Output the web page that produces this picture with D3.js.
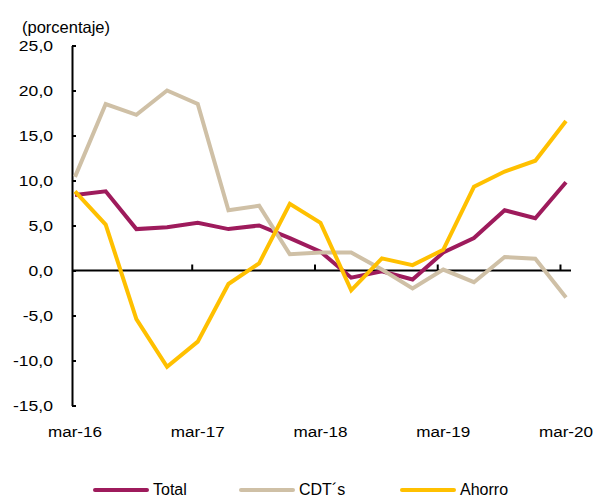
<!DOCTYPE html>
<html>
<head>
<meta charset="utf-8">
<script src="https://cdn.jsdelivr.net/npm/d3@7"></script>
<style>
	body { margin: 0; background: #fff; }
	text { font-family: "Liberation Sans", Arial, sans-serif; fill: #000; }
</style>
</head>
<body>
<script>
// quarterly periods, mar-16 .. mar-20
var periods = ['mar-16', 'jun-16', 'sep-16', 'dic-16', 'mar-17', 'jun-17', 'sep-17', 'dic-17',
	'mar-18', 'jun-18', 'sep-18', 'dic-18', 'mar-19', 'jun-19', 'sep-19', 'dic-19', 'mar-20'];
var xLabels = ['mar-16', 'mar-17', 'mar-18', 'mar-19', 'mar-20'];
var yTicks = [-15, -10, -5, 0, 5, 10, 15, 20, 25];

var total = [8.4, 8.8, 4.6, 4.8, 5.3, 4.6, 5.0, 3.6, 2.1, -0.8, -0.1, -1.0, 2.0, 3.6, 6.7, 5.8, 9.8];
var cdts = [10.4, 18.5, 17.3, 20.0, 18.5, 6.7, 7.2, 1.8, 2.0, 2.0, 0.1, -2.0, 0.1, -1.3, 1.5, 1.3, -3.0];
var ahorro = [8.8, 5.1, -5.4, -10.7, -7.9, -1.5, 0.8, 7.4, 5.3, -2.2, 1.35, 0.6, 2.3, 9.3, 11.0, 12.2, 16.6];

var seriesNames = ['Total', 'CDT\u00b4s', 'Ahorro'];
var seriesColors = ['#9E1B5C', '#CFC0A6', '#FFC000'];
var seriesData = [total, cdts, ahorro];

var width = 597, height = 499;
var stretch = 1.17; // tick labels in the original are a bit wide

var svg = d3.select('body').append('svg')
	.attr('width', width)
	.attr('height', height);

var x = d3.scalePoint().domain(periods).range([75, 566]);
var y = d3.scaleLinear().domain([-15, 25]).range([405.5, 45.5]);

var fmt = function(v) { return v.toFixed(1).replace('.', ','); };

// unit label
svg.append('text')
	.attr('x', 22)
	.attr('y', 33)
	.attr('font-size', 16.5)
	.text('(porcentaje)');

// y axis, ticks point inward
var yAxis = svg.append('g')
	.attr('transform', 'translate(72,0)')
	.call(d3.axisLeft(y).tickValues(yTicks).tickFormat(fmt).tickSizeInner(-4).tickSizeOuter(0).tickPadding(19));
yAxis.select('.domain').attr('stroke', '#000').attr('stroke-width', 2);
yAxis.selectAll('.tick line').attr('stroke', '#000').attr('stroke-width', 2);
yAxis.selectAll('.tick text')
	.attr('font-size', 15)
	.attr('font-family', '"Liberation Sans", Arial, sans-serif')
	.attr('x', -19 / stretch)
	.attr('transform', 'scale(' + stretch + ',1)');

// x axis along zero
var step = x.step();
svg.append('line')
	.attr('x1', 72).attr('x2', 571)
	.attr('y1', y(0)).attr('y2', y(0))
	.attr('stroke', '#000').attr('stroke-width', 2);

svg.selectAll('.xtick')
	.data(xLabels.slice(1))
	.enter().append('line')
	.attr('class', 'xtick')
	.attr('x1', function(d) { return x(d) - step * 0.18; })
	.attr('x2', function(d) { return x(d) - step * 0.18; })
	.attr('y1', y(0))
	.attr('y2', y(0) - 6)
	.attr('stroke', '#000').attr('stroke-width', 2);

svg.selectAll('.xlabel')
	.data(xLabels)
	.enter().append('text')
	.attr('class', 'xlabel')
	.attr('transform', function(d) { return 'translate(' + x(d) + ',437) scale(1.14,1)'; })
	.attr('text-anchor', 'middle')
	.attr('font-size', 15)
	.text(function(d) { return d; });

// lines
var line = d3.line()
	.x(function(d, i) { return x(periods[i]); })
	.y(function(d) { return y(d); });

svg.selectAll('.series')
	.data(seriesData)
	.enter().append('path')
	.attr('class', 'series')
	.attr('d', line)
	.attr('fill', 'none')
	.attr('stroke', function(d, i) { return seriesColors[i]; })
	.attr('stroke-width', 4)
	.attr('stroke-linejoin', 'miter');

// legend
var legendX = [94, 240, 401];
var legend = svg.selectAll('.legend')
	.data(seriesNames)
	.enter().append('g')
	.attr('class', 'legend')
	.attr('transform', function(d, i) { return 'translate(' + legendX[i] + ',490)'; });

legend.append('line')
	.attr('x1', 1).attr('x2', 53)
	.attr('y1', 0).attr('y2', 0)
	.attr('stroke', function(d, i) { return seriesColors[i]; })
	.attr('stroke-width', 4)
	.attr('stroke-linecap', 'round');

legend.append('text')
	.attr('x', 59)
	.attr('y', 5)
	.attr('font-size', 16)
	.text(function(d) { return d; });
</script>
</body>
</html>
